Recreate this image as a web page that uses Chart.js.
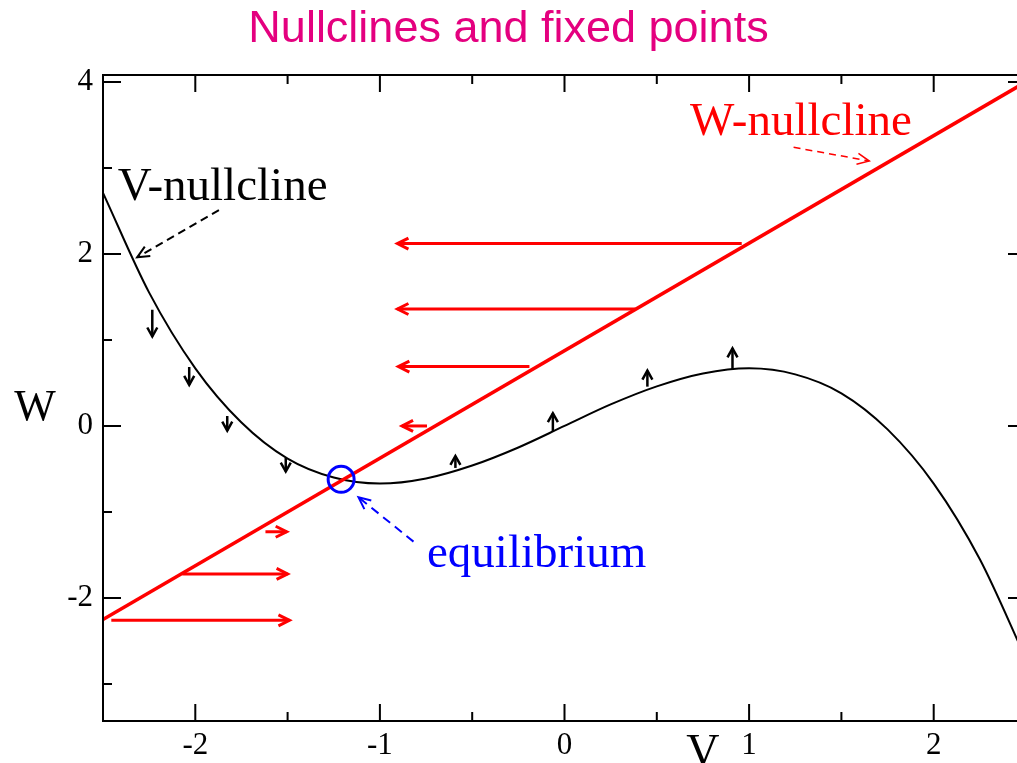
<!DOCTYPE html>
<html>
<head>
<meta charset="utf-8">
<script src="https://cdn.jsdelivr.net/npm/chart.js@4.4.1/dist/chart.umd.min.js"></script>
<style>
  html, body { margin: 0; padding: 0; background: #fff; overflow: hidden; }
  #chart { display: block; width: 1042px; height: 763px; }
</style>
</head>
<body>
<canvas id="chart" width="1042" height="763"></canvas>
<script>
// ---- FitzHugh–Nagumo phase plane: nullclines and flow ----
const chartTitle = 'Nullclines and fixed points';
const axisNameV = 'V';
const axisNameW = 'W';

// V-nullcline (cubic)
const vGrid       = [-2.5, -2.25, -2, -1.75, -1.5, -1.25, -1, -0.75, -0.5, -0.25, 0, 0.25, 0.5, 0.75, 1, 1.25, 1.5, 1.75, 2, 2.25, 2.5];
const vNullclineW = [2.71, 1.55, 0.67, 0.04, -0.38, -0.6, -0.67, -0.61, -0.46, -0.25, 0, 0.25, 0.46, 0.61, 0.67, 0.6, 0.38, -0.04, -0.67, -1.55, -2.71];

// W-nullcline (straight line)
const wNullclineV = [-2.5, 2.5];
const wNullclineW = [-2.25, 4.0];

// fixed point
const equilibriumV = [-1.21];
const equilibriumW = [-0.62];

// horizontal flow arrows (dV/dt), from -> to at constant W
const fieldW     = [2.12, 1.36, 0.69, 0.0, -1.23, -1.72, -2.26];
const fieldFromV = [0.96, 0.385, -0.19, -0.745, -1.62, -2.07, -2.455];
const fieldToV   = [-0.905, -0.905, -0.9, -0.88, -1.505, -1.5, -1.49];

// vertical flow arrows (dW/dt) along the V-nullcline
const flowV     = [-2.233, -2.033, -1.827, -1.51, -0.591, -0.063, 0.449, 0.91];
const flowFromW = [1.35, 0.686, 0.116, -0.372, -0.488, -0.066, 0.457, 0.651];
const flowToW   = [1.04, 0.477, -0.055, -0.53, -0.349, 0.148, 0.643, 0.903];

// labelled pointers
const noteLabels   = ['V-nullcline', 'W-nullcline', 'equilibrium'];
const pointerFromV = [-1.872, 1.241, -0.818];
const pointerFromW = [2.51, 3.24, -1.345];
const pointerToV   = [-2.315, 1.651, -1.116];
const pointerToW   = [1.96, 3.08, -0.829];

// axis ranges and tick labels
const vRange = [-2.5, 2.5];
const wRange = [-3.43, 4.08];
const vTickLabels = [-2, -1, 0, 1, 2];
const wTickLabels = [-2, 0, 2, 4];

const RED = '#ff0000', BLUE = '#0000ff', BLACK = '#000000', MAGENTA = '#e4007f';
const SERIF = '"Liberation Serif", "Times New Roman", serif';
const SANS = '"Liberation Sans", Arial, sans-serif';

const noteStyle = [
  { color: BLACK, at: { x: -2.42, y: 2.63 } },
  { color: RED,   at: { x: 0.68,  y: 3.38 } },
  { color: BLUE,  at: { x: -0.745, y: -1.634 } }
];
const pointerStyle = [
  { color: BLACK, width: 2,   dash: [8, 5] },
  { color: RED,   width: 1.5, dash: [7, 5] },
  { color: BLUE,  width: 2,   dash: [9, 6] }
];

const datasets = [];

datasets.push({
  label: 'equilibrium',
  data: equilibriumV.map((v, i) => ({ x: v, y: equilibriumW[i] })),
  showLine: false,
  pointRadius: 13,
  pointHoverRadius: 13,
  pointBorderWidth: 3,
  pointBorderColor: BLUE,
  pointBackgroundColor: 'rgba(0,0,0,0)'
});

datasets.push({
  label: 'W-nullcline',
  data: wNullclineV.map((v, i) => ({ x: v, y: wNullclineW[i] })),
  showLine: true,
  borderColor: RED,
  borderWidth: 3.5,
  pointRadius: 0
});

datasets.push({
  label: 'V-nullcline',
  data: vGrid.map((v, i) => ({ x: v, y: vNullclineW[i] })),
  showLine: true,
  borderColor: BLACK,
  borderWidth: 2,
  pointRadius: 0,
  cubicInterpolationMode: 'monotone'
});

fieldW.forEach((w, i) => {
  datasets.push({
    label: 'field' + i,
    data: [{ x: fieldFromV[i], y: w }, { x: fieldToV[i], y: w }],
    showLine: true,
    borderColor: RED,
    borderWidth: 3,
    pointRadius: 0,
    head: { len: 11, half: 5.5, width: 3 }
  });
});

flowV.forEach((v, i) => {
  datasets.push({
    label: 'flow' + i,
    data: [{ x: v, y: flowFromW[i] }, { x: v, y: flowToW[i] }],
    showLine: true,
    borderColor: BLACK,
    borderWidth: 2.5,
    pointRadius: 0,
    head: { len: 9, half: 5, width: 2.5 }
  });
});

noteLabels.forEach((t, i) => {
  const st = pointerStyle[i];
  datasets.push({
    label: 'pointer ' + t,
    data: [{ x: pointerFromV[i], y: pointerFromW[i] }, { x: pointerToV[i], y: pointerToW[i] }],
    showLine: true,
    borderColor: st.color,
    borderWidth: st.width,
    borderDash: st.dash,
    pointRadius: 0,
    head: { len: 12, half: 5.5, width: st.width }
  });
});

// open chevron arrowheads at the last point of flagged datasets
const arrowHeads = {
  id: 'arrowHeads',
  afterDatasetsDraw(chart) {
    const ctx = chart.ctx, a = chart.chartArea;
    ctx.save();
    ctx.beginPath();
    ctx.rect(a.left, a.top, a.right - a.left, a.bottom - a.top);
    ctx.clip();
    chart.data.datasets.forEach((ds, i) => {
      if (!ds.head) return;
      const pts = chart.getDatasetMeta(i).data;
      const p0 = pts[0], p1 = pts[pts.length - 1];
      const dx = p1.x - p0.x, dy = p1.y - p0.y;
      const L = Math.hypot(dx, dy) || 1;
      const ux = dx / L, uy = dy / L;
      const bx = p1.x - ux * ds.head.len, by = p1.y - uy * ds.head.len;
      ctx.setLineDash([]);
      ctx.strokeStyle = ds.borderColor;
      ctx.lineWidth = ds.head.width;
      ctx.lineJoin = 'miter';
      ctx.beginPath();
      ctx.moveTo(bx - uy * ds.head.half, by + ux * ds.head.half);
      ctx.lineTo(p1.x, p1.y);
      ctx.lineTo(bx + uy * ds.head.half, by - ux * ds.head.half);
      ctx.stroke();
    });
    ctx.restore();
  }
};

// frame with inward major/minor ticks on all four sides
const frameTicks = {
  id: 'frameTicks',
  afterDraw(chart) {
    const ctx = chart.ctx, a = chart.chartArea;
    const xs = chart.scales.x, ys = chart.scales.y;
    ctx.save();
    ctx.strokeStyle = BLACK;
    ctx.lineWidth = 2;
    ctx.setLineDash([]);
    ctx.strokeRect(a.left, a.top, a.right - a.left, a.bottom - a.top);
    ctx.beginPath();
    xs.ticks.forEach(t => {
      const major = Number.isInteger(t.value);
      const len = major ? 17 : 9;
      const px = xs.getPixelForValue(t.value);
      ctx.moveTo(px, a.bottom); ctx.lineTo(px, a.bottom - len);
      ctx.moveTo(px, a.top);    ctx.lineTo(px, a.top + len);
    });
    ys.ticks.forEach(t => {
      if (!Number.isInteger(t.value)) return;
      const major = t.value % 2 === 0;
      const len = major ? 18 : 9;
      const py = ys.getPixelForValue(t.value);
      ctx.moveTo(a.left, py);  ctx.lineTo(a.left + len, py);
      ctx.moveTo(a.right, py); ctx.lineTo(a.right - len, py);
    });
    ctx.stroke();
    ctx.restore();
  }
};

// title, axis names and pointer captions
const captions = {
  id: 'captions',
  afterDraw(chart) {
    const ctx = chart.ctx;
    const xs = chart.scales.x, ys = chart.scales.y;
    ctx.save();
    ctx.textBaseline = 'alphabetic';

    ctx.fillStyle = MAGENTA;
    ctx.font = '45px ' + SANS;
    ctx.textAlign = 'center';
    ctx.fillText(chartTitle, 508.5, 42);

    ctx.fillStyle = BLACK;
    ctx.font = '44px ' + SERIF;
    ctx.fillText(axisNameW, 35, 420);
    ctx.font = '46px ' + SERIF;
    ctx.fillText(axisNameV, xs.getPixelForValue(0.75), 766);

    ctx.font = '47px ' + SERIF;
    ctx.textAlign = 'left';
    noteLabels.forEach((t, i) => {
      const s = noteStyle[i];
      ctx.fillStyle = s.color;
      ctx.fillText(t, xs.getPixelForValue(s.at.x), ys.getPixelForValue(s.at.y));
    });
    ctx.restore();
  }
};

const tickFont = { family: SERIF, size: 31 };

new Chart(document.getElementById('chart'), {
  type: 'scatter',
  data: { datasets },
  options: {
    responsive: false,
    maintainAspectRatio: false,
    animation: false,
    devicePixelRatio: 1,
    layout: { padding: { left: 0, right: 5, top: 75, bottom: 0 } },
    plugins: {
      legend: { display: false },
      title: { display: false },
      tooltip: { enabled: false }
    },
    scales: {
      x: {
        type: 'linear',
        min: vRange[0], max: vRange[1],
        grid: { display: false, drawTicks: false },
        border: { display: false },
        ticks: {
          stepSize: 0.5, autoSkip: false, maxRotation: 0, padding: 6,
          font: tickFont, color: BLACK,
          callback: v => vTickLabels.includes(v) ? String(v) : ''
        },
        afterFit: s => { s.height = 42; }
      },
      y: {
        type: 'linear',
        min: wRange[0], max: wRange[1],
        grid: { display: false, drawTicks: false },
        border: { display: false },
        ticks: {
          stepSize: 1, includeBounds: false, autoSkip: false, padding: 10,
          font: tickFont, color: BLACK,
          callback: v => wTickLabels.includes(v) ? String(v) : ''
        },
        afterFit: s => { s.width = 103; }
      }
    }
  },
  plugins: [arrowHeads, frameTicks, captions]
});
</script>
</body>
</html>
